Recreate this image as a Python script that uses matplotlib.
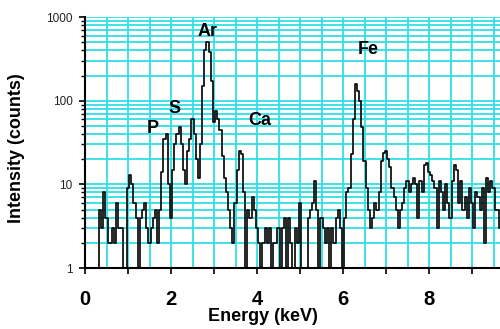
import numpy as np
import matplotlib
matplotlib.use("Agg")
import matplotlib.pyplot as plt
from matplotlib.ticker import LogLocator, MultipleLocator, FixedLocator, NullFormatter

plt.rcParams['font.family'] = ['Liberation Sans', 'DejaVu Sans']

# channel energies (keV), 0.05 keV channels from 0.30 keV
e_start = 0.30
e_step = 0.05

# counts per channel, one row per keV
counts = [
    1, 5, 3, 8, 4, 2, 2, 3, 2, 6, 3, 3, 1, 1,                        # 0.30 - 0.95
    9, 13, 10, 6, 4, 1, 4, 5, 6, 3, 2, 3, 4, 5, 2, 5, 14, 35, 40, 10,  # 1.00 - 1.95
    4, 15, 30, 40, 48, 30, 15, 10, 25, 35, 60, 40, 20, 12, 30, 150, 400, 500, 380, 170,  # 2.00 - 2.95
    55, 76, 60, 45, 22, 12, 8, 5, 3, 2, 6, 15, 25, 23, 8, 1, 5, 4, 7, 5,  # 3.00 - 3.95
    3, 2, 1, 2, 3, 2, 3, 1, 2, 2, 3, 1, 3, 4, 1, 4, 2, 1, 3, 2,        # 4.00 - 4.95
    6, 1, 1, 1, 4, 5, 6, 11, 5, 1, 4, 3, 2, 3, 1, 3, 2, 4, 5, 3,       # 5.00 - 5.95
    1, 4, 8, 9, 23, 60, 160, 130, 100, 48, 19, 9, 5, 3, 4, 6, 5, 8, 19, 24,  # 6.00 - 6.95
    25, 20, 16, 9, 7, 5, 3, 5, 6, 9, 11, 8, 10, 12, 10, 4, 11, 8, 17, 18,    # 7.00 - 7.95
    14, 13, 11, 9, 3, 11, 8, 5, 10, 6, 4, 11, 17, 15, 6, 11, 5, 7, 4, 9,     # 8.00 - 8.95
    6, 3, 8, 7, 5, 9, 2, 12, 8, 11, 9, 5, 5, 3,                              # 9.00 - 9.65
]
energy = e_start + e_step * np.arange(len(counts))

x_tick_labels = ["0", "", "2", "", "4", "", "6", "", "8", ""]
y_ticks = [1, 10, 100, 1000]
y_tick_labels = ["1", "10", "100", "1000"]

# peak labels
peak_names = ["P", "S", "Ar", "Ca", "Fe"]
peak_x = [1.58, 2.07, 2.86, 4.07, 6.58]
peak_y = [46, 80, 680, 58, 405]

grid_color = "#2ee0e6"

fig = plt.figure(figsize=(5.0, 3.29), dpi=100)
ax = fig.add_axes([0.17, 0.1854, 0.83, 0.7626])

ax.set_yscale("log")
ax.set_xlim(0, 9.65)
ax.set_ylim(1, 1000)

ax.step(energy, counts, where="mid", color="black", lw=1.2, zorder=3)

# grid
ax.xaxis.set_minor_locator(MultipleLocator(0.5))
ax.set_xticks(range(len(x_tick_labels)))
ax.set_xticklabels(x_tick_labels)
ax.yaxis.set_major_locator(FixedLocator(y_ticks))
ax.set_yticklabels(y_tick_labels)
ax.yaxis.set_minor_locator(LogLocator(base=10, subs=np.arange(2, 10)))
ax.yaxis.set_minor_formatter(NullFormatter())
ax.grid(True, which="both", axis="both", color=grid_color, lw=1.3, zorder=0)
ax.set_axisbelow(True)

for s in ["top", "right"]:
    ax.spines[s].set_visible(False)
ax.spines["left"].set_linewidth(1.5)
ax.spines["bottom"].set_linewidth(1.5)

ax.tick_params(axis="x", which="major", length=4, width=1.2, pad=12,
               labelsize=14.5)
ax.tick_params(axis="x", which="minor", length=0)
ax.tick_params(axis="y", which="major", length=4, width=1.2, pad=5,
               labelsize=8.5, labelcolor="#222222")
ax.tick_params(axis="y", which="minor", length=3, width=1)
for lab in ax.get_xticklabels():
    lab.set_fontweight("bold")

ax.set_xlabel("Energy (keV)", fontsize=13, fontweight="bold")
ax.xaxis.set_label_coords((263 - 85) / 415, -0.16)
ax.set_ylabel("Intensity (counts)", fontsize=13, fontweight="bold")
ax.yaxis.set_label_coords(-0.145, 0.478)

for name, px, py in zip(peak_names, peak_x, peak_y):
    ax.text(px, py, name, fontsize=13, fontweight="bold",
            ha="center", va="center", zorder=4)

fig.savefig("out.png", dpi=100)
